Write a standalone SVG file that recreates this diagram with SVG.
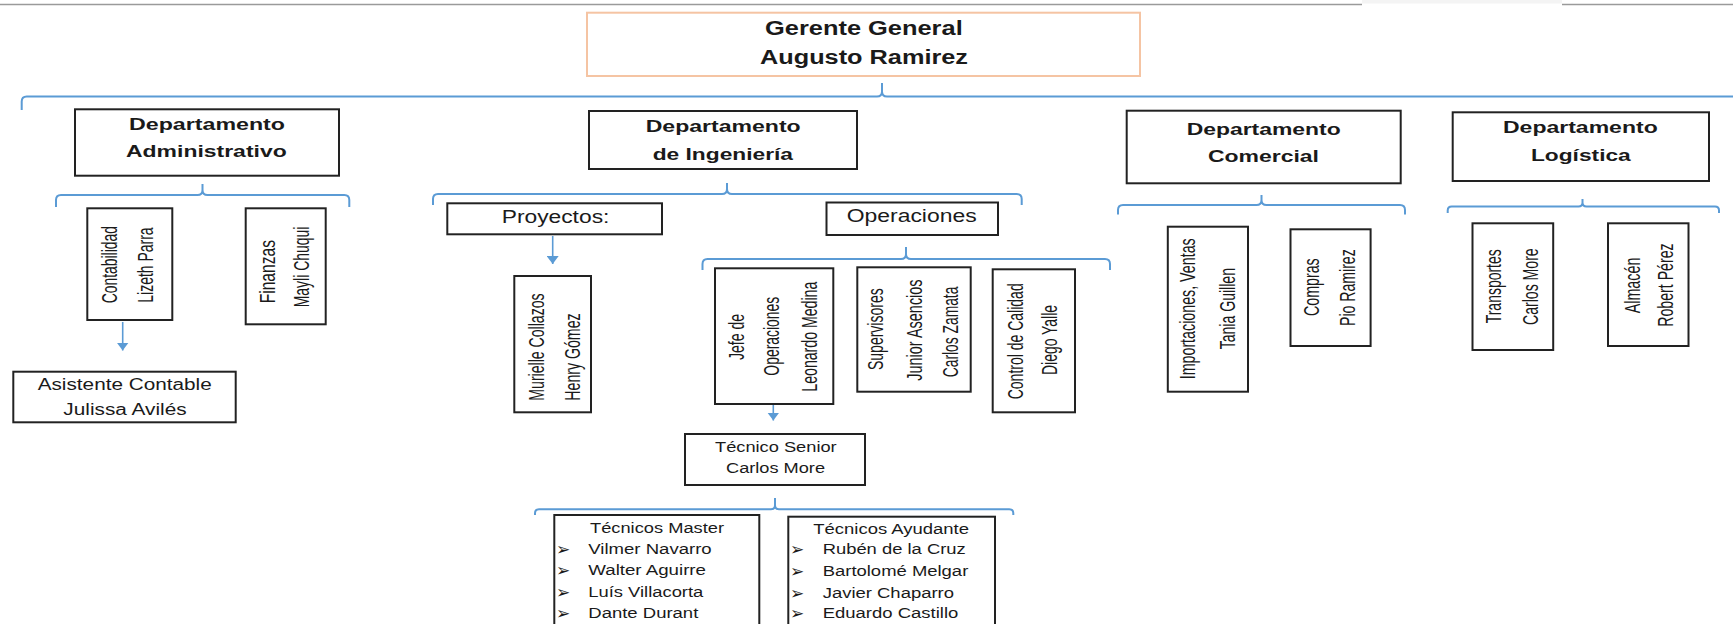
<svg xmlns="http://www.w3.org/2000/svg" width="1733" height="624" viewBox="0 0 1733 624">
<style>
.t{font-family:"Liberation Sans",Arial,sans-serif;fill:#1a1a1a}
.hb{font-weight:bold;font-size:17px}
.hg{font-weight:bold;font-size:19.5px}
.r{font-size:17.5px}
.s{font-size:15.8px}
.l{font-size:14px}
.v{font-size:22px}
.bul{font-family:"DejaVu Sans",sans-serif;font-size:17px;fill:#1a1a1a}
.box{fill:#fff;stroke:#222;stroke-width:2}
.gbox{fill:#fff;stroke:#f5c4a3;stroke-width:2}
.br{fill:none;stroke:#5b9bd5;stroke-width:2}
.ar{fill:none;stroke:#5b9bd5;stroke-width:1.6}
</style>
<defs>
<marker id="ah" markerUnits="userSpaceOnUse" viewBox="0 0 12 8" markerWidth="12" markerHeight="8" refX="6" refY="8" orient="0">
<path d="M0,0 L12,0 L6,8 Z" fill="#5b9bd5"/>
</marker>
</defs>
<rect width="1733" height="624" fill="#fff"/>
<rect x="1362" y="0" width="200" height="3.5" fill="#f4f4f4"/>
<path d="M0,4.5 H1362 M1562,4.5 H1733" stroke="#9a9a9a" stroke-width="1.5" fill="none"/>

<g id="connectors">
<path class="br" d="M21.7,110 V101.5 Q21.7,96.5 26.7,96.5 H877 Q882,96.5 882,91.5 V83 M882,91.5 Q882,96.5 887,96.5 H1745"/>
<path class="br" d="M56,207 V200 Q56,195 61,195 H197.5 Q202.5,195 202.5,190 V184 M202.5,190 Q202.5,195 207.5,195 H344.3 Q349.3,195 349.3,200 V207"/>
<path class="br" d="M433,205 V199 Q433,194 438,194 H722 Q727,194 727,189 V183 M727,189 Q727,194 732,194 H1016.7 Q1021.7,194 1021.7,199 V205"/>
<path class="br" d="M702.5,270 V264 Q702.5,259 707.5,259 H901 Q906,259 906,254 V247 M906,254 Q906,259 911,259 H1105 Q1110,259 1110,264 V270"/>
<path class="br" d="M1118,214.5 V210 Q1118,205 1123,205 H1256.5 Q1261.5,205 1261.5,200 V195 M1261.5,200 Q1261.5,205 1266.5,205 H1400 Q1405,205 1405,210 V214.5"/>
<path class="br" d="M1447.7,213 V210.5 Q1447.7,206.5 1451.7,206.5 H1578.5 Q1582.5,206.5 1582.5,202.5 V199 M1582.5,202.5 Q1582.5,206.5 1586.5,206.5 H1715 Q1719,206.5 1719,210.5 V213"/>
<path class="br" d="M535,515 V513.3 Q535,509.3 539,509.3 H771 Q775,509.3 775,505.3 V498 M775,505.3 Q775,509.3 779,509.3 H1009.3 Q1013.3,509.3 1013.3,513.3 V515"/>
<path class="ar" d="M122.7,322 V350.5" marker-end="url(#ah)"/>
<path class="ar" d="M552.7,236 V264" marker-end="url(#ah)"/>
<path class="ar" d="M773.3,405 V420.5" marker-end="url(#ah)"/>
</g>

<g id="gerente">
<rect class="gbox" x="587" y="12.7" width="553" height="63.3"/>
<text class="t hg" x="765" y="35" textLength="197.7" lengthAdjust="spacingAndGlyphs">Gerente General</text>
<text class="t hg" x="760" y="64" textLength="208" lengthAdjust="spacingAndGlyphs">Augusto Ramirez</text>
</g>

<g id="dep-admin">
<rect class="box" x="75" y="109.3" width="264" height="66.4"/>
<text class="t hb" x="129" y="130" textLength="156" lengthAdjust="spacingAndGlyphs">Departamento</text>
<text class="t hb" x="126" y="156.7" textLength="160.7" lengthAdjust="spacingAndGlyphs">Administrativo</text>
</g>

<g id="dep-ing">
<rect class="box" x="589" y="111" width="268" height="58"/>
<text class="t hb" x="645.7" y="132" textLength="155" lengthAdjust="spacingAndGlyphs">Departamento</text>
<text class="t hb" x="652.7" y="160" textLength="140.3" lengthAdjust="spacingAndGlyphs">de Ingeniería</text>
</g>

<g id="dep-com">
<rect class="box" x="1126.7" y="110.7" width="274" height="72.6"/>
<text class="t hb" x="1186.7" y="135" textLength="154" lengthAdjust="spacingAndGlyphs">Departamento</text>
<text class="t hb" x="1208" y="162.3" textLength="111" lengthAdjust="spacingAndGlyphs">Comercial</text>
</g>

<g id="dep-log">
<rect class="box" x="1452.7" y="112.3" width="256.3" height="68.7"/>
<text class="t hb" x="1503" y="133.3" textLength="154.7" lengthAdjust="spacingAndGlyphs">Departamento</text>
<text class="t hb" x="1531" y="161" textLength="99.7" lengthAdjust="spacingAndGlyphs">Logística</text>
</g>

<g id="contabilidad">
<rect class="box" x="87.3" y="208.3" width="85" height="111.7"/>
<text class="t v" transform="translate(117.3 303.3) rotate(-90)" textLength="77.3" lengthAdjust="spacingAndGlyphs">Contabilidad</text>
<text class="t v" transform="translate(153.3 302.7) rotate(-90)" textLength="75.3" lengthAdjust="spacingAndGlyphs">Lizeth Parra</text>
</g>

<g id="finanzas">
<rect class="box" x="245.7" y="208.3" width="80" height="116"/>
<text class="t v" transform="translate(275 303.3) rotate(-90)" textLength="63.3" lengthAdjust="spacingAndGlyphs">Finanzas</text>
<text class="t v" transform="translate(308.5 307.3) rotate(-90)" textLength="80.7" lengthAdjust="spacingAndGlyphs">Mayli Chuqui</text>
</g>

<g id="asistente">
<rect class="box" x="13.3" y="371.7" width="222.4" height="50.6"/>
<text class="t s" x="37.7" y="390" textLength="174" lengthAdjust="spacingAndGlyphs">Asistente Contable</text>
<text class="t s" x="63.3" y="415" textLength="123.3" lengthAdjust="spacingAndGlyphs">Julissa Avilés</text>
</g>

<g id="proyectos">
<rect class="box" x="447.3" y="203.3" width="214.7" height="31"/>
<text class="t r" x="501.7" y="223.3" textLength="107.7" lengthAdjust="spacingAndGlyphs">Proyectos:</text>
</g>

<g id="operaciones">
<rect class="box" x="826.5" y="202.5" width="171.5" height="32.5"/>
<text class="t r" x="846.7" y="222.3" textLength="130" lengthAdjust="spacingAndGlyphs">Operaciones</text>
</g>

<g id="murielle">
<rect class="box" x="514.3" y="276" width="76.7" height="136.3"/>
<text class="t v" transform="translate(543.5 400.7) rotate(-90)" textLength="107.3" lengthAdjust="spacingAndGlyphs">Murielle Collazos</text>
<text class="t v" transform="translate(580 400.7) rotate(-90)" textLength="87.3" lengthAdjust="spacingAndGlyphs">Henry Gómez</text>
</g>

<g id="jefe">
<rect class="box" x="715" y="268.3" width="118.3" height="135.7"/>
<text class="t v" transform="translate(744 360) rotate(-90)" textLength="46" lengthAdjust="spacingAndGlyphs">Jefe de</text>
<text class="t v" transform="translate(779 375.7) rotate(-90)" textLength="79" lengthAdjust="spacingAndGlyphs">Operaciones</text>
<text class="t v" transform="translate(816.5 391.7) rotate(-90)" textLength="110" lengthAdjust="spacingAndGlyphs">Leonardo Medina</text>
</g>

<g id="supervisores">
<rect class="box" x="857.3" y="267.3" width="113.4" height="124.4"/>
<text class="t v" transform="translate(883 370) rotate(-90)" textLength="81.7" lengthAdjust="spacingAndGlyphs">Supervisores</text>
<text class="t v" transform="translate(921.7 380.7) rotate(-90)" textLength="101.3" lengthAdjust="spacingAndGlyphs">Junior Asencios</text>
<text class="t v" transform="translate(958 377.3) rotate(-90)" textLength="90.7" lengthAdjust="spacingAndGlyphs">Carlos Zamata</text>
</g>

<g id="control">
<rect class="box" x="992.7" y="269.3" width="82.3" height="143"/>
<text class="t v" transform="translate(1022.5 399.3) rotate(-90)" textLength="116" lengthAdjust="spacingAndGlyphs">Control de Calidad</text>
<text class="t v" transform="translate(1057 375) rotate(-90)" textLength="70" lengthAdjust="spacingAndGlyphs">Diego Yalle</text>
</g>

<g id="importaciones">
<rect class="box" x="1167.8" y="226.7" width="80.2" height="165"/>
<text class="t v" transform="translate(1195 379.3) rotate(-90)" textLength="141" lengthAdjust="spacingAndGlyphs">Importaciones, Ventas</text>
<text class="t v" transform="translate(1234.5 349.3) rotate(-90)" textLength="81.3" lengthAdjust="spacingAndGlyphs">Tania Guillen</text>
</g>

<g id="compras">
<rect class="box" x="1290.5" y="229.3" width="80.1" height="116.7"/>
<text class="t v" transform="translate(1319 316) rotate(-90)" textLength="57.7" lengthAdjust="spacingAndGlyphs">Compras</text>
<text class="t v" transform="translate(1355 326) rotate(-90)" textLength="76.7" lengthAdjust="spacingAndGlyphs">Pio Ramirez</text>
</g>

<g id="transportes">
<rect class="box" x="1472.5" y="223.3" width="80.7" height="126.7"/>
<text class="t v" transform="translate(1501 323.3) rotate(-90)" textLength="74" lengthAdjust="spacingAndGlyphs">Transportes</text>
<text class="t v" transform="translate(1538 325) rotate(-90)" textLength="76.7" lengthAdjust="spacingAndGlyphs">Carlos More</text>
</g>

<g id="almacen">
<rect class="box" x="1608" y="223.3" width="80.5" height="122.7"/>
<text class="t v" transform="translate(1639.5 313.3) rotate(-90)" textLength="55.7" lengthAdjust="spacingAndGlyphs">Almacén</text>
<text class="t v" transform="translate(1673 326.7) rotate(-90)" textLength="83.3" lengthAdjust="spacingAndGlyphs">Robert Pérez</text>
</g>

<g id="tecnico-senior">
<rect class="box" x="685" y="434" width="180" height="51"/>
<text class="t l" x="715" y="452.3" textLength="121.7" lengthAdjust="spacingAndGlyphs">Técnico Senior</text>
<text class="t l" x="726" y="473.3" textLength="99" lengthAdjust="spacingAndGlyphs">Carlos More</text>
</g>

<g id="tecnicos-master">
<rect class="box" x="554.3" y="515" width="205" height="125"/>
<text class="t l" x="590" y="533.3" textLength="134" lengthAdjust="spacingAndGlyphs">Técnicos Master</text>
<text class="bul" x="556" y="555">➢</text>
<text class="t l" x="588.3" y="554" textLength="123.4" lengthAdjust="spacingAndGlyphs">Vilmer Navarro</text>
<text class="bul" x="556" y="576">➢</text>
<text class="t l" x="588.3" y="575" textLength="117.7" lengthAdjust="spacingAndGlyphs">Walter Aguirre</text>
<text class="bul" x="556" y="598.3">➢</text>
<text class="t l" x="588.3" y="597.3" textLength="115" lengthAdjust="spacingAndGlyphs">Luís Villacorta</text>
<text class="bul" x="556" y="619.3">➢</text>
<text class="t l" x="588.3" y="618.3" textLength="110" lengthAdjust="spacingAndGlyphs">Dante Durant</text>
</g>

<g id="tecnicos-ayudante">
<rect class="box" x="788.3" y="516.7" width="206.7" height="125"/>
<text class="t l" x="813.3" y="534.3" textLength="155.7" lengthAdjust="spacingAndGlyphs">Técnicos Ayudante</text>
<text class="bul" x="790" y="555.3">➢</text>
<text class="t l" x="822.7" y="554.3" textLength="143" lengthAdjust="spacingAndGlyphs">Rubén de la Cruz</text>
<text class="bul" x="790" y="576.7">➢</text>
<text class="t l" x="822.7" y="575.7" textLength="145.6" lengthAdjust="spacingAndGlyphs">Bartolomé Melgar</text>
<text class="bul" x="790" y="598.7">➢</text>
<text class="t l" x="822.7" y="597.7" textLength="131.3" lengthAdjust="spacingAndGlyphs">Javier Chaparro</text>
<text class="bul" x="790" y="619.3">➢</text>
<text class="t l" x="822.7" y="618.3" textLength="135.6" lengthAdjust="spacingAndGlyphs">Eduardo Castillo</text>
</g>
</svg>
